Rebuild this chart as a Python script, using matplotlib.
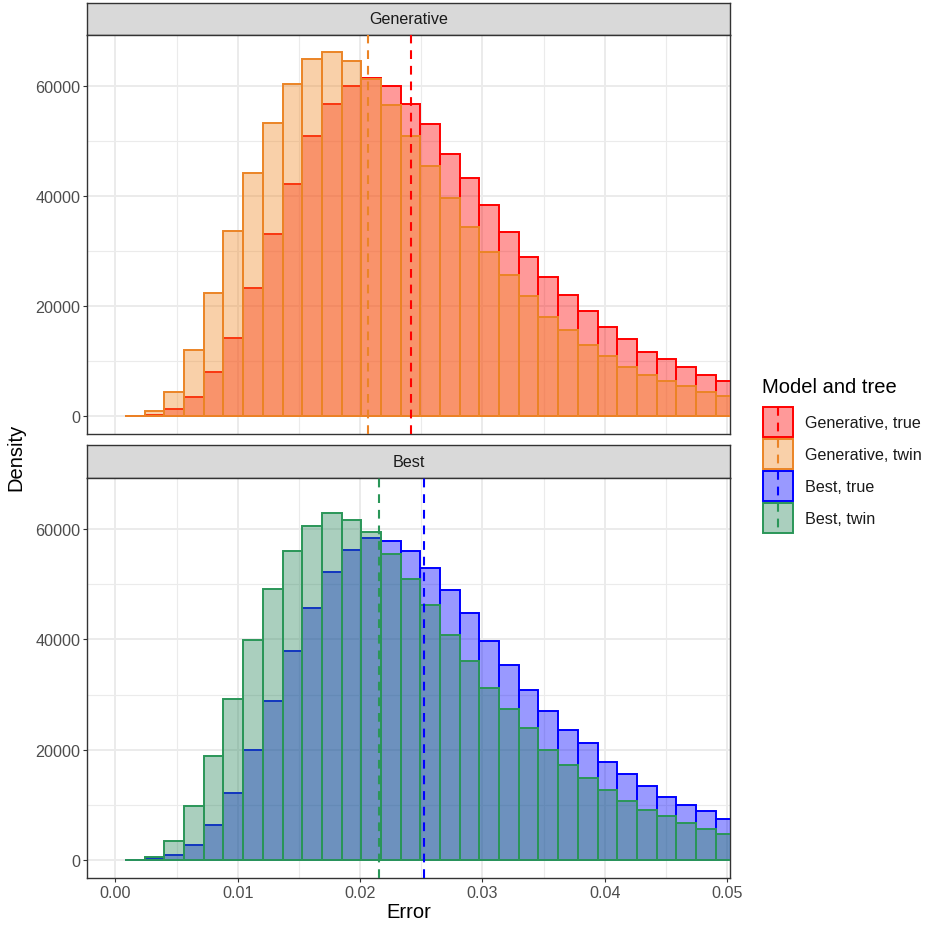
import numpy as np
import matplotlib
matplotlib.use("Agg")
import matplotlib.pyplot as plt
from matplotlib.colors import to_rgba
from matplotlib.patches import Rectangle

plt.rcParams['font.family'] = ['Liberation Sans', 'DejaVu Sans']

# histogram bins (Error)
bin_start = 0.00078
bin_width = 0.00161
n_bins = 31
bin_left = bin_start + bin_width * np.arange(n_bins)

# densities
gen_true = [0, 150, 1210, 3390, 7940, 14120, 23210, 33030, 42120, 50840,
            56600, 60000, 61450, 60000, 56660, 52960, 47570, 43150, 38300, 33390,
            28850, 25210, 21880, 18970, 16060, 14000, 11640, 10300, 8850, 7510, 6420]
gen_twin = [0, 850, 4360, 11880, 22300, 33510, 44120, 53150, 60240, 64840,
            66050, 64480, 61200, 56480, 50840, 45450, 39510, 34300, 29690, 25570,
            21690, 17940, 15570, 12850, 10850, 8910, 7510, 6300, 5390, 4360, 3640]
best_true = [0, 300, 790, 2670, 6240, 12060, 19940, 28910, 37880, 45750,
             52180, 56300, 58360, 57810, 56000, 52900, 48960, 44840, 39750, 35270,
             30780, 27090, 23630, 21150, 17820, 15510, 13450, 11390, 10000, 8790, 7390]
best_twin = [0, 600, 3450, 9820, 18850, 29270, 39870, 49150, 56120, 60540,
             62900, 61690, 59570, 55570, 50900, 46180, 40780, 36000, 31150, 27330,
             23880, 20000, 17270, 14910, 12600, 10730, 9090, 7880, 6600, 5580, 4610]

# mean error per group (dashed lines)
gen_means = [0.02416, 0.02062]
best_means = [0.0252, 0.02152]

panels = ["Generative", "Best"]
labels = ["Generative, true", "Generative, twin", "Best, true", "Best, twin"]
colors = ["#FF0000", "#EB8426", "#0000FF", "#2A9658"]
fills = ["#FF0000", "#F28A28", "#0000FF", "#2B875E"]

W, H = 925, 928
fig = plt.figure(figsize=(W / 100, H / 100), dpi=100)


def px_axes(x0, y0, x1, y1):
    return fig.add_axes([x0 / W, 1 - y1 / H, (x1 - x0) / W, (y1 - y0) / H])


def strip(y0, y1, text):
    sax = px_axes(87, y0, 730, y1)
    sax.set_facecolor("#D9D9D9")
    sax.set_xticks([])
    sax.set_yticks([])
    for s in sax.spines.values():
        s.set_color("#333333")
        s.set_linewidth(1.0)
    sax.text(0.5, 0.5, text, ha="center", va="center", fontsize=11.6,
             color="#1A1A1A", transform=sax.transAxes)


def panel(y0, y1, series, cols, fcols, means, show_x):
    ax = px_axes(87, y0, 730, y1)
    for vals, c, f in zip(series, cols, fcols):
        ax.bar(bin_left, vals, width=bin_width, align="edge",
               facecolor=to_rgba(f, 0.4), edgecolor=c, linewidth=1.4, zorder=3)
    for m, c in zip(means, cols):
        ax.axvline(m, color=c, linewidth=1.5, dashes=(4.2, 3.3), zorder=4)
    ax.set_xlim(-0.00233, 0.05025)
    ax.set_ylim(-3300, 69300)
    ax.set_xticks([0, 0.01, 0.02, 0.03, 0.04, 0.05])
    ax.set_xticks([0.005, 0.015, 0.025, 0.035, 0.045], minor=True)
    ax.set_yticks([0, 20000, 40000, 60000])
    ax.set_yticks([10000, 30000, 50000], minor=True)
    ax.set_yticklabels(["0", "20000", "40000", "60000"])
    ax.set_xticklabels(["0.00", "0.01", "0.02", "0.03", "0.04", "0.05"])
    ax.grid(which="major", color="#EBEBEB", linewidth=1.4, zorder=0)
    ax.grid(which="minor", color="#EBEBEB", linewidth=0.8, zorder=0)
    ax.set_axisbelow(True)
    ax.tick_params(which="major", length=2.7, width=0.8, color="#333333",
                   labelsize=11.6, labelcolor="#4D4D4D", pad=2.0)
    ax.tick_params(which="minor", length=0)
    if not show_x:
        ax.tick_params(axis="x", which="major", length=0, labelbottom=False)
    for s in ax.spines.values():
        s.set_color("#333333")
        s.set_linewidth(1.0)
    return ax


strip(3.5, 35.5, panels[0])
panel(35.5, 435, [gen_true, gen_twin], colors[:2], fills[:2], gen_means, False)
strip(446, 479, panels[1])
panel(479, 879, [best_true, best_twin], colors[2:], fills[2:], best_means, True)

fig.text(408.5 / W, 1 - 913 / H, "Error", ha="center", va="center", fontsize=14.5)
fig.text(16 / W, 1 - 457 / H, "Density", ha="center", va="center", fontsize=14.5,
         rotation=90)

# legend
lax = fig.add_axes([0, 0, 1, 1])
lax.set_xlim(0, W)
lax.set_ylim(H, 0)
lax.axis("off")
lax.text(762, 388, "Model and tree", ha="left", va="center", fontsize=14.5)
for i, (lab, c, f) in enumerate(zip(labels, colors, fills)):
    y0 = 408 + i * 32
    lax.add_patch(Rectangle((763, y0), 30, 30, facecolor=to_rgba(f, 0.4),
                            edgecolor=c, linewidth=1.4))
    lax.plot([778, 778], [y0, y0 + 30], color=c, linewidth=1.5, dashes=(4.2, 3.3))
    lax.text(805, y0 + 15.5, lab, ha="left", va="center", fontsize=11.6,
             color="#1A1A1A")

fig.savefig("out.png", dpi=100)
